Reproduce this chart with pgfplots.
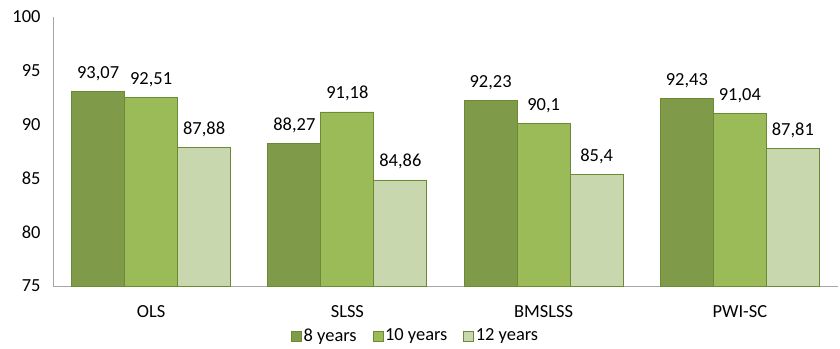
\documentclass[border=0pt]{standalone}
\usepackage{pgfplots}
\pgfplotsset{compat=1.18}
\usepackage{fontspec}
\setmainfont{Carlito}

\definecolor{gDark}{HTML}{7F9A48}
\definecolor{gMid}{HTML}{9BBB59}
\definecolor{gLight}{HTML}{C8D7AE}
\definecolor{gEdge}{HTML}{6A8A35}
\definecolor{axisgray}{HTML}{A6A6A6}

\begin{document}
\begin{tikzpicture}[font=\fontsize{18.5}{21}\selectfont]
\useasboundingbox (0,0) rectangle (840bp,349bp);
\begin{axis}[
  at={(53bp,63bp)}, anchor=south west,
  scale only axis,
  width=785bp, height=269bp,
  ymin=75, ymax=100,
  ytick={75,80,...,100},
  xmin=-0.5, xmax=3.5,
  xtick={0,1,2,3},
  xticklabels={OLS,SLSS,BMSLSS,PWI-SC},
  axis x line*=bottom,
  axis y line*=left,
  axis line style={axisgray, line width=1pt, -},
  major tick length=0pt,
  tick label style={font=\fontsize{18.5}{21}\selectfont},
  yticklabel style={xshift=-9bp},
  xticklabel style={yshift=-16bp},
  /pgf/number format/assume math mode=true,
  ybar=0pt,
  bar width=53bp,
  nodes near coords,
  every node near coord/.append style={font=\fontsize{18.5}{21}\selectfont, yshift=7bp},
  nodes near coords style={/pgf/number format/.cd, use comma, precision=2, assume math mode=true},
  legend columns=3,
  legend style={at={(0.462,-0.185)}, anchor=center, draw=none, fill=none,
    font=\fontsize{18.5}{21}\selectfont,
    /tikz/every even column/.append style={column sep=14bp}},
  legend image code/.code={\draw[#1, line width=0.5pt] (0bp,-5bp) rectangle (10bp,5bp);},
  clip=false,
]
\addplot[fill=gDark, draw=gEdge, line width=0.8pt] coordinates {(0,93.07) (1,88.27) (2,92.23) (3,92.43)};
\addplot[fill=gMid, draw=gEdge, line width=0.8pt] coordinates {(0,92.51) (1,91.18) (2,90.1) (3,91.04)};
\addplot[fill=gLight, draw=gEdge, line width=0.8pt] coordinates {(0,87.88) (1,84.86) (2,85.4) (3,87.81)};
\legend{8 years, 10 years, 12 years}
\end{axis}
\end{tikzpicture}
\end{document}
